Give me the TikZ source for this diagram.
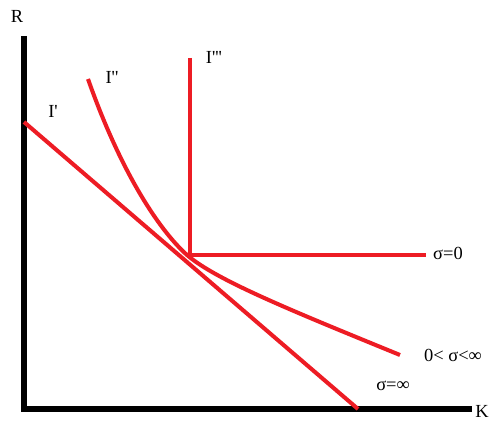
\documentclass[tikz,border=0pt]{standalone}
\usepackage{fontspec}
\setmainfont{Liberation Serif}
\begin{document}
\begin{tikzpicture}[x=0.02cm,y=-0.02cm,
  axis/.style={line width=3.7pt,black},
  curve/.style={line width=2.3pt,color={rgb,255:red,237;green,28;blue,36}},
  lbl/.style={font=\fontsize{10.5}{12}\selectfont,inner sep=0pt}]
\useasboundingbox (0,0) rectangle (491,421);
\coordinate (rtop) at (24,36);
\coordinate (origin) at (24,409);
\coordinate (kend) at (472,409);
\draw[axis] (rtop) -- (origin) -- (kend);
\node[lbl] (R) at (17,16) {R};
\node[lbl] (K) at (482,411) {K};
% I'
\coordinate (i1a) at (24,122);
\coordinate (i1b) at (358,409);
\draw[curve] (i1a) -- (i1b);
\node[lbl] (I1) at (53,111) {I\textquotesingle};
% I''
\coordinate (i2a) at (88,79);
\coordinate (tp) at (187,255);
\coordinate (i2b) at (400,355);
\draw[curve] (i2a) .. controls (120,170) and (158,229) .. (tp)
  .. controls (216,280) and (290,310) .. (i2b);
\node[lbl] (I2) at (112,77) {I\textquotesingle\textquotesingle};
% I'''
\coordinate (i3a) at (190,58);
\coordinate (corner) at (190,255);
\coordinate (i3b) at (426,255);
\draw[curve] (i3a) -- (corner) -- (i3b);
\node[lbl] (I3) at (214,57) {I\textquotesingle\textquotesingle\textquotesingle};
\node[lbl] (s0) at (448,253) {σ=0};
\node[lbl] (s1) at (453,355) {0< σ<∞};
\node[lbl] (s2) at (393,386) {σ=∞};
\end{tikzpicture}
\end{document}
